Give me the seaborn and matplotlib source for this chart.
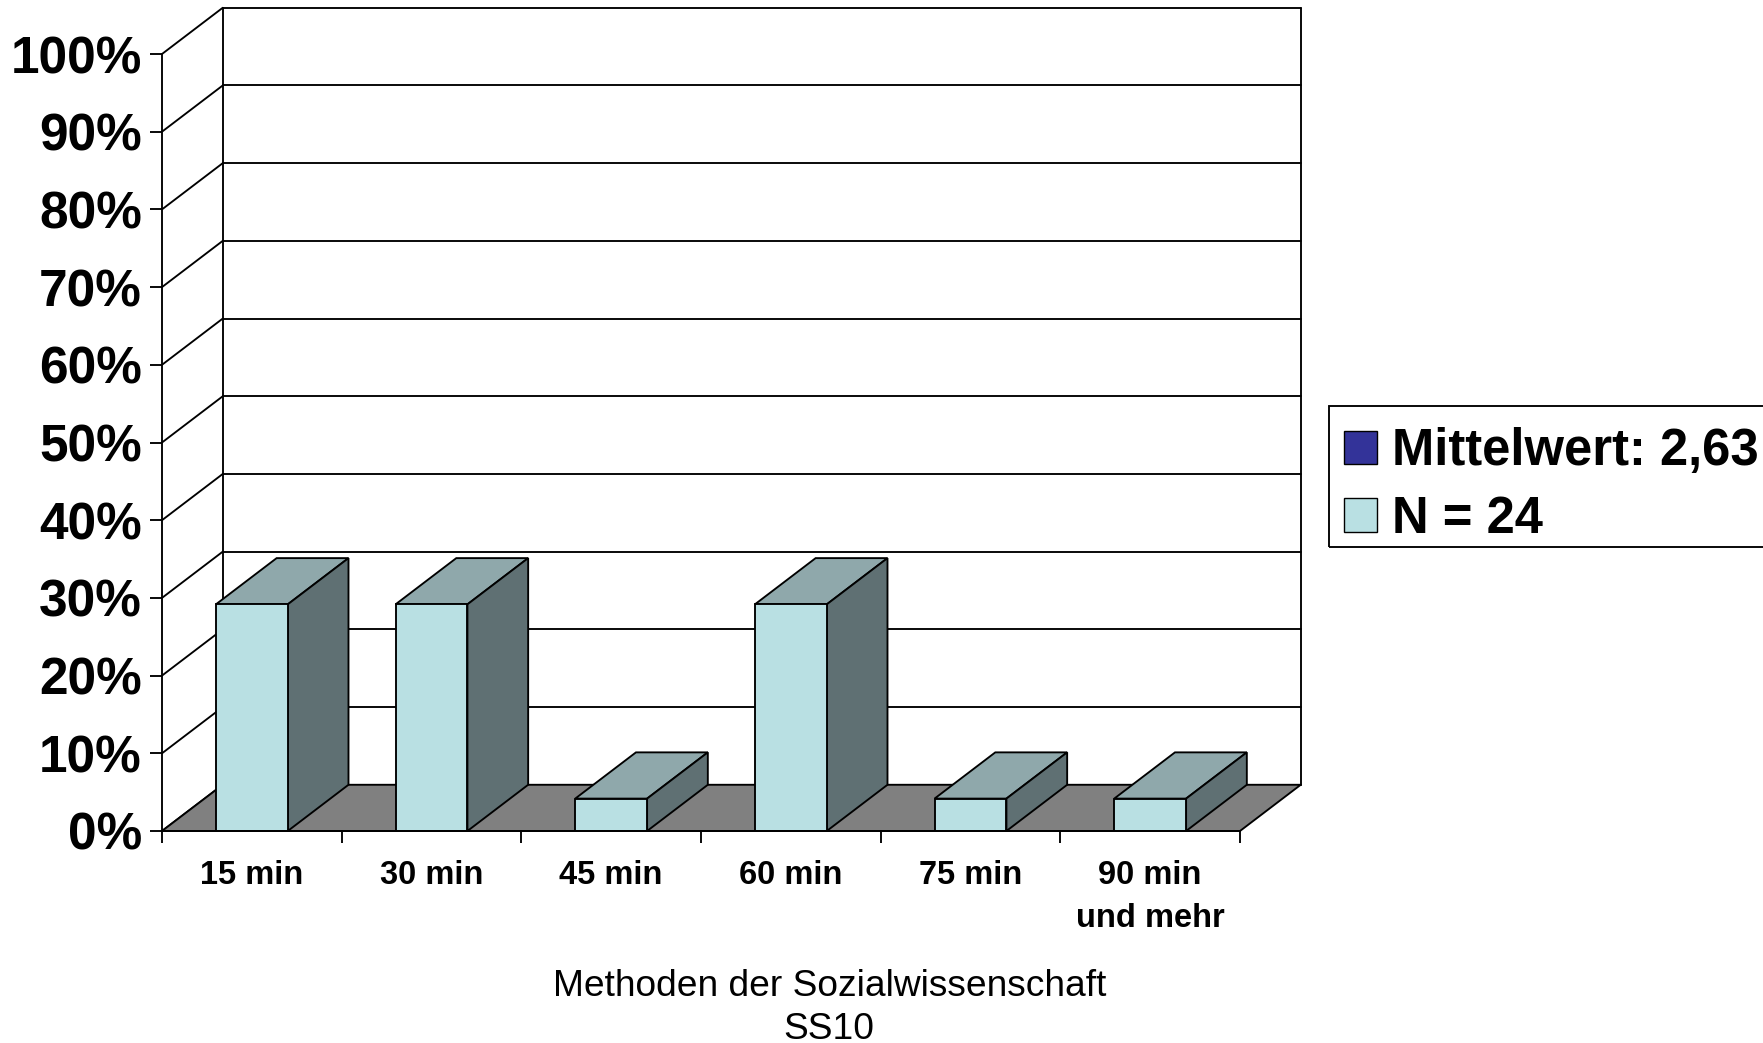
import matplotlib
matplotlib.use('Agg')
import matplotlib.pyplot as plt
from matplotlib.patches import Patch, Polygon, Rectangle
import seaborn as sns

categories = ['15 min', '30 min', '45 min', '60 min', '75 min', '90 min\nund mehr']
percent = [29.17, 29.17, 4.17, 29.17, 4.17, 4.17]
y_ticks = [0, 10, 20, 30, 40, 50, 60, 70, 80, 90, 100]
legend_labels = ['Mittelwert: 2,63', 'N = 24']
xlabel_text = 'Methoden der Sozialwissenschaft\nSS10'

sns.set_style('white')
plt.rcParams['font.family'] = ['Liberation Sans', 'DejaVu Sans']
plt.rcParams['text.color'] = 'black'
plt.rcParams['axes.labelcolor'] = 'black'
plt.rcParams['xtick.color'] = 'black'
plt.rcParams['ytick.color'] = 'black'

W, H = 1763, 1043
LW = 1.35
fig = plt.figure(figsize=(W / 100, H / 100), dpi=100)
# front plane of the fake 3d box
ax = fig.add_axes([162 / W, 1 - 831 / H, 1078 / W, 777 / H])

# depth of the box in data units
dx = 0.338
dy = 5.95

sns.barplot(x=categories, y=percent, color='#b9e0e3', saturation=1, width=0.4,
            edgecolor='black', linewidth=LW, ax=ax, zorder=5)
ax.set_xlim(-0.5, 5.5)
ax.set_ylim(0, 100)

# top and side faces from the bars seaborn drew
for bar in list(ax.patches):
    x0 = bar.get_x()
    x1 = x0 + bar.get_width()
    h = bar.get_height()
    ax.add_patch(Polygon([(x0, h), (x0 + dx, h + dy), (x1 + dx, h + dy), (x1, h)],
                         closed=True, fc='#8fa8ab', ec='black', lw=LW, clip_on=False, zorder=4))
    ax.add_patch(Polygon([(x1, 0), (x1 + dx, dy), (x1 + dx, h + dy), (x1, h)],
                         closed=True, fc='#5f7073', ec='black', lw=LW, clip_on=False, zorder=4))

# floor
ax.add_patch(Polygon([(-0.5, 0), (-0.5 + dx, dy), (5.5 + dx, dy), (5.5, 0)],
                     closed=True, fc='#808080', ec='black', lw=LW, clip_on=False, zorder=2))

# back wall and side wall lines
for t in y_ticks:
    ax.plot([-0.5 + dx, 5.5 + dx], [t + dy, t + dy], color='black', lw=LW, clip_on=False, zorder=1)
    ax.plot([-0.5, -0.5 + dx], [t, t + dy], color='black', lw=LW, clip_on=False, zorder=1)
ax.plot([-0.5 + dx, -0.5 + dx], [dy, 100 + dy], color='black', lw=LW, clip_on=False, zorder=1)
ax.plot([5.5 + dx, 5.5 + dx], [dy, 100 + dy], color='black', lw=LW, clip_on=False, zorder=1)

sns.despine(ax=ax, top=True, right=True)
for s in ['left', 'bottom']:
    ax.spines[s].set_color('black')
    ax.spines[s].set_linewidth(LW)
    ax.spines[s].set_zorder(6)

ax.set_yticks(y_ticks)
ax.set_yticklabels([f'{t}%' for t in y_ticks], fontsize=37, fontweight='bold')
ax.tick_params(axis='y', which='major', left=True, length=8.5, width=LW, pad=6, color='black')
ax.set_xticks(range(len(categories)))
ax.set_xticklabels(categories, fontsize=23.5, fontweight='bold', linespacing=1.5)
ax.set_xticks([i - 0.5 for i in range(len(categories) + 1)], minor=True)
ax.tick_params(axis='x', which='major', bottom=False, pad=17.5)
ax.tick_params(axis='x', which='minor', bottom=True, length=8.5, width=LW, color='black')

ax.set_xlabel(xlabel_text, fontsize=26.7, x=0.619, labelpad=25, linespacing=1.3)
ax.set_ylabel('')

# legend frame runs off the right edge like in the original
fig.add_artist(Rectangle((1329 / W, 1 - 547 / H), 500 / W, 141 / H, transform=fig.transFigure,
                         fill=False, ec='black', lw=LW))
handles = [Patch(fc='#333399', ec='black'), Patch(fc='#b9e0e3', ec='black')]
leg = fig.legend(handles, legend_labels, loc='upper left', bbox_to_anchor=(1329 / W, 1 - 412 / H),
                 bbox_transform=fig.transFigure, borderaxespad=0,
                 prop={'weight': 'bold', 'size': 36.5}, frameon=False,
                 handlelength=0.64, handleheight=0.64,
                 handletextpad=0.3, labelspacing=0.37, borderpad=0.3)

fig.savefig('out.png', dpi=100)
